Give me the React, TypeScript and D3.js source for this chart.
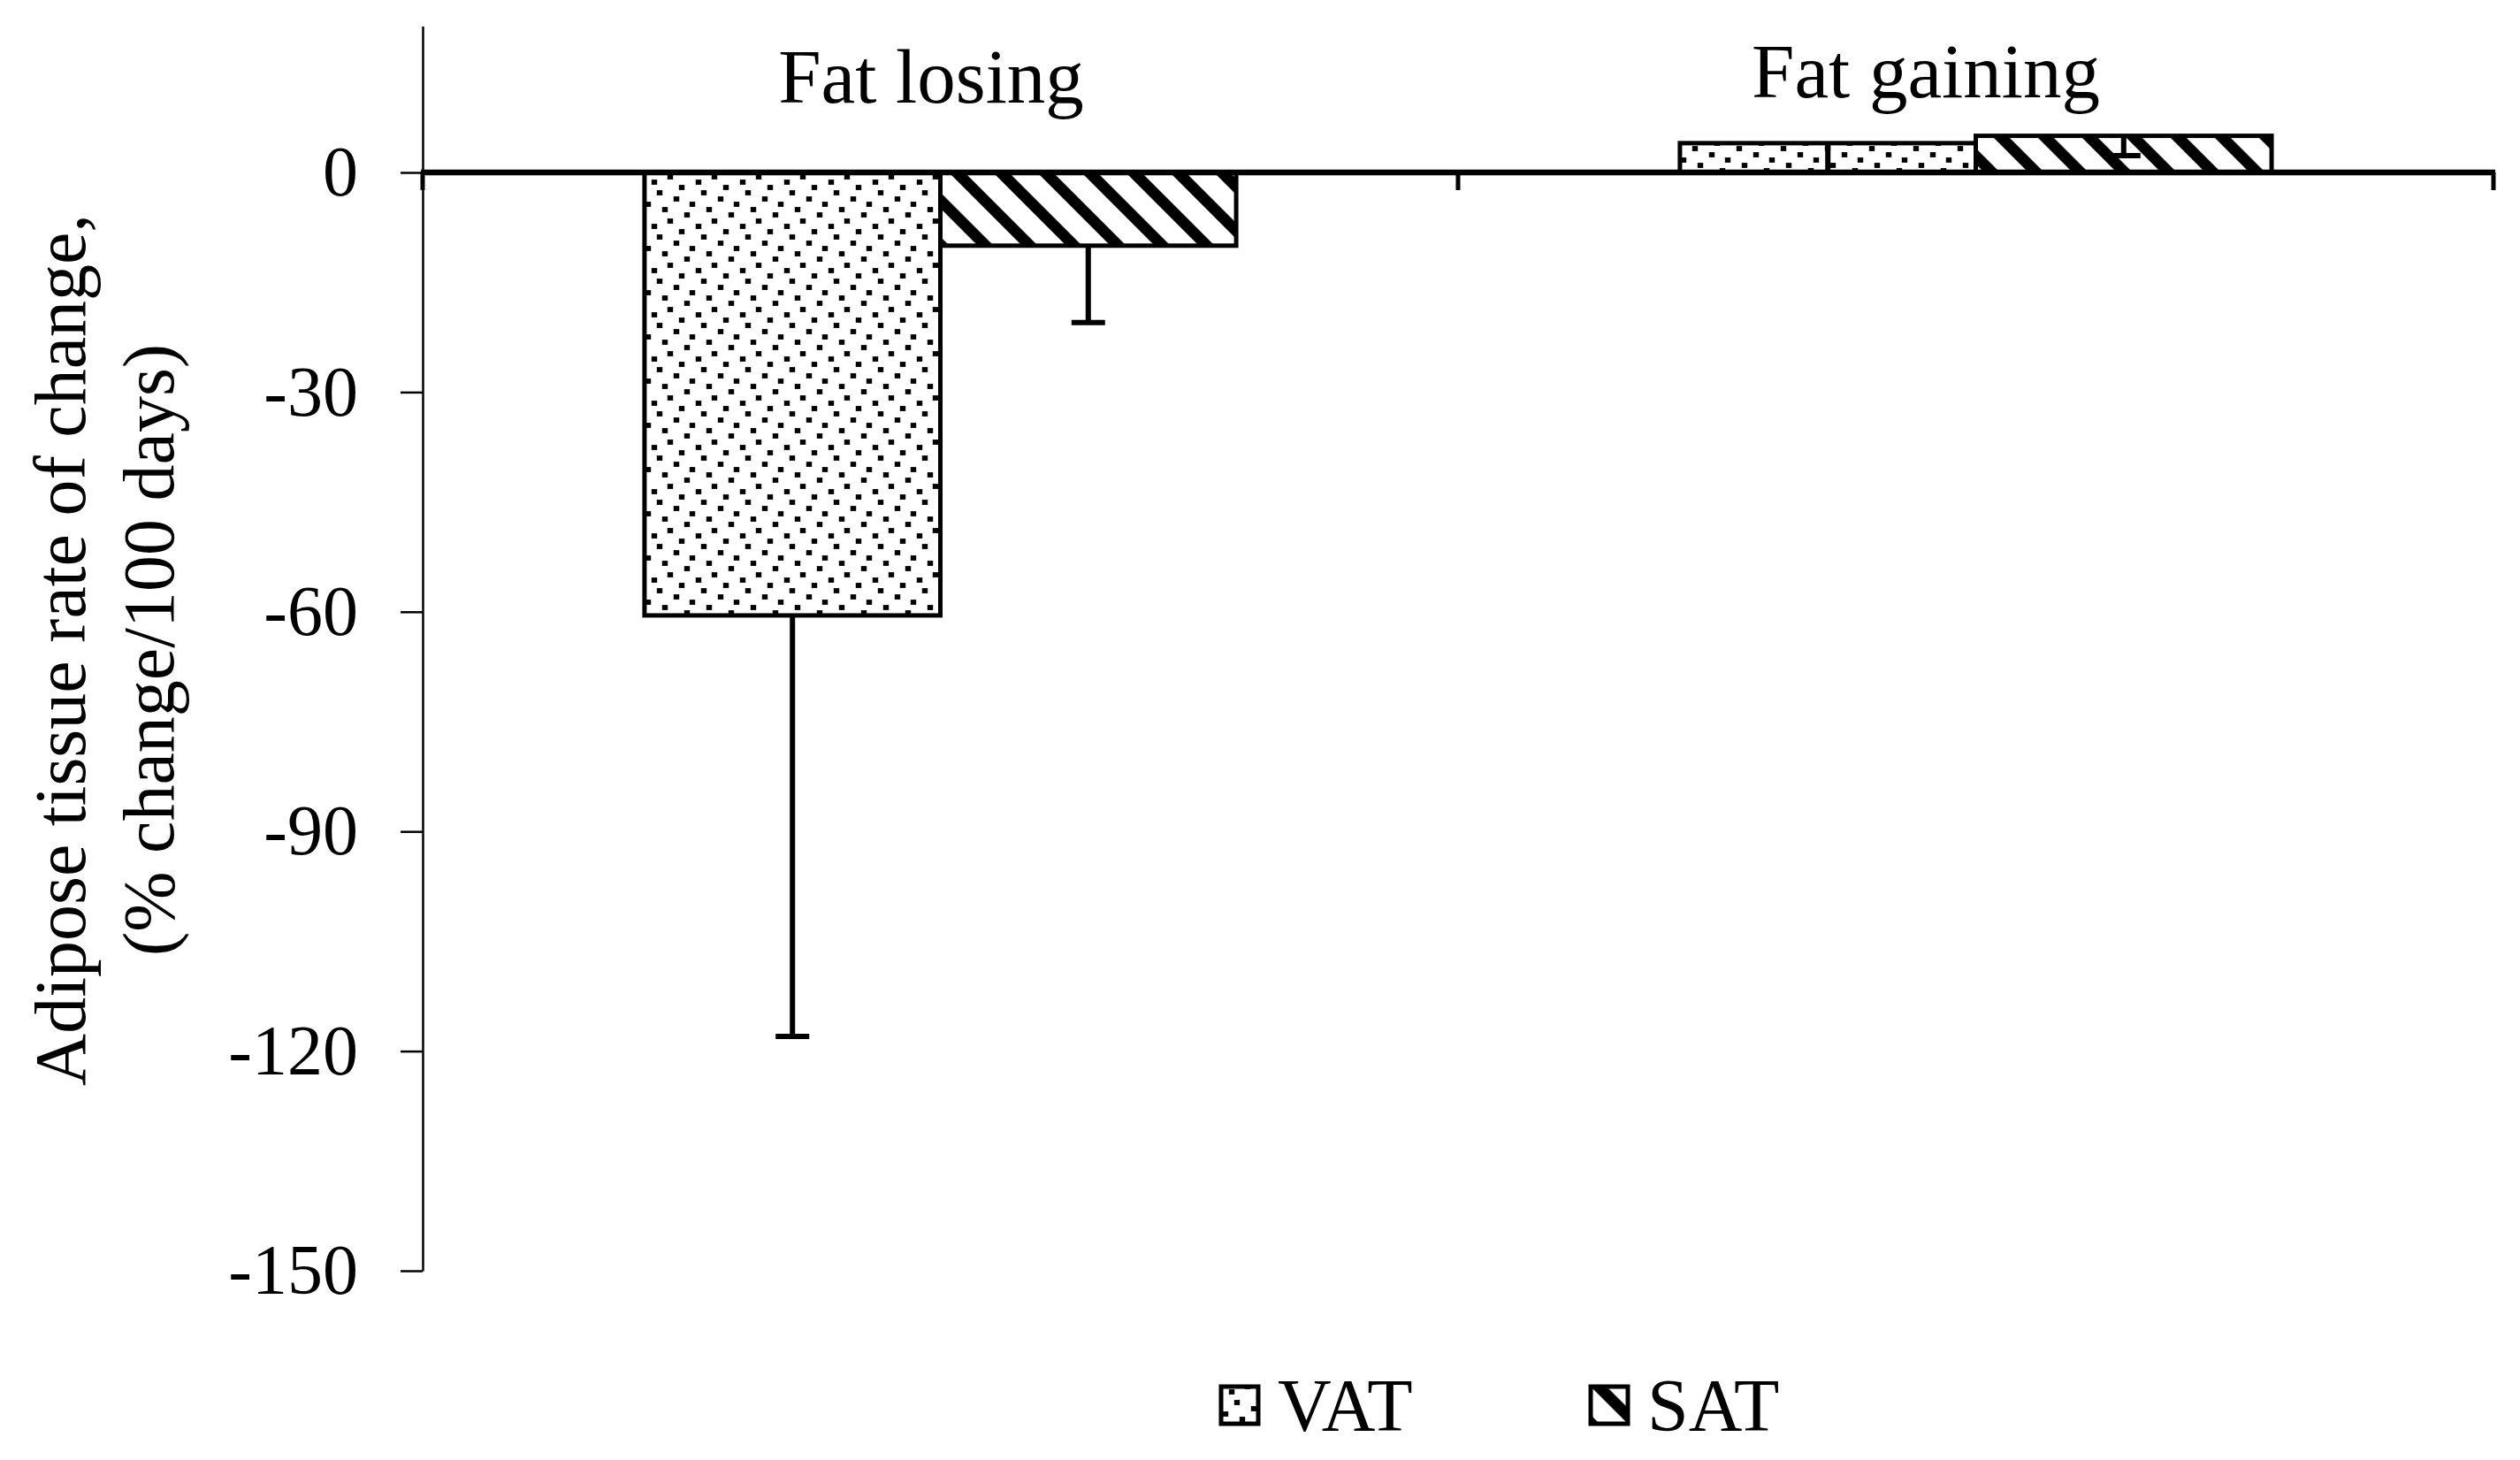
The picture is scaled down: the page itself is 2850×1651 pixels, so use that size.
import React, { useEffect, useRef } from "react";
import * as d3 from "d3";

// values
const categories = ["Fat losing", "Fat gaining"];
const seriesNames = ["VAT", "SAT"];
const vatValues = [-60.5, 4];
const satValues = [-10, 5];
const vatErrors = [57.5, 4];
const satErrors = [10.5, 2.7];
const yTickValues = [0, -30, -60, -90, -120, -150];

const WIDTH = 2850;
const HEIGHT = 1651;
const FONT = "'Liberation Serif', 'Times New Roman', serif";

export default function App() {
  const ref = useRef<SVGSVGElement>(null);

  useEffect(() => {
    document.body.style.margin = "0";
    const svg = d3.select(ref.current);
    svg.selectAll("*").remove();

    const plot = { left: 478, right: 2820, top: 29.4, bottom: 1437 };

    const y = d3.scaleLinear().domain([-150, 20]).range([plot.bottom, plot.top]);
    const x0 = d3.scaleBand().domain(categories).range([plot.left, plot.right]).padding(0);
    // excel style gap width 150%
    const x1 = d3
      .scaleBand()
      .domain(seriesNames)
      .range([0, x0.bandwidth()])
      .paddingInner(0)
      .paddingOuter(0.75);

    const defs = svg.append("defs");

    // dotted fill (VAT)
    const dots = defs
      .append("pattern")
      .attr("id", "dots")
      .attr("patternUnits", "userSpaceOnUse")
      .attr("width", 50)
      .attr("height", 50);
    dots.append("rect").attr("width", 50).attr("height", 50).attr("fill", "#fff");
    const dotPos = [
      [12, 6], [43, 12], [18, 18], [37, 25], [5, 31], [24, 37], [49, 43], [30, 0], [30, 50], [-1, 43],
    ];
    dots
      .selectAll("rect.d")
      .data(dotPos)
      .enter()
      .append("rect")
      .attr("class", "d")
      .attr("x", (d) => d[0] - 3.2)
      .attr("y", (d) => d[1] - 2.9)
      .attr("width", 6.4)
      .attr("height", 5.8)
      .attr("fill", "#000");

    // wide downward diagonal (SAT)
    const p = 50 / Math.SQRT2;
    const hatch = defs
      .append("pattern")
      .attr("id", "hatch")
      .attr("patternUnits", "userSpaceOnUse")
      .attr("width", p)
      .attr("height", p)
      .attr("patternTransform", "rotate(-45)");
    hatch.append("rect").attr("width", p).attr("height", p).attr("fill", "#fff");
    hatch.append("rect").attr("width", 12.7).attr("height", p).attr("fill", "#000");

    const fills: Record<string, string> = { VAT: "url(#dots)", SAT: "url(#hatch)" };

    const rows = categories.map((c, i) => ({
      cat: c,
      bars: [
        { key: "VAT", value: vatValues[i], err: vatErrors[i] },
        { key: "SAT", value: satValues[i], err: satErrors[i] },
      ],
    }));

    // y axis
    const yAxis = svg
      .append("g")
      .attr("transform", `translate(${plot.left},0)`)
      .call(
        d3
          .axisLeft(y)
          .tickValues(yTickValues)
          .tickSize(25)
          .tickSizeOuter(0)
          .tickPadding(48)
          .tickFormat((d) => String(d))
      );
    yAxis.select(".domain").attr("stroke", "#000").attr("stroke-width", 2.5);
    yAxis.selectAll(".tick line").attr("stroke", "#000").attr("stroke-width", 2.5);
    yAxis
      .selectAll(".tick text")
      .attr("font-family", FONT)
      .attr("font-size", 80)
      .attr("fill", "#000");

    const groups = svg
      .selectAll(".cat")
      .data(rows)
      .enter()
      .append("g")
      .attr("class", "cat")
      .attr("transform", (d) => `translate(${x0(d.cat)},0)`);

    groups
      .selectAll("rect")
      .data((d) => d.bars)
      .enter()
      .append("rect")
      .attr("x", (d) => x1(d.key)!)
      .attr("width", x1.bandwidth())
      .attr("y", (d) => y(Math.max(0, d.value)))
      .attr("height", (d) => Math.abs(y(d.value) - y(0)))
      .attr("fill", (d) => fills[d.key])
      .attr("stroke", "#000")
      .attr("stroke-width", 5);

    // error bars, minus direction only
    const errs = groups
      .selectAll(".err")
      .data((d) => d.bars)
      .enter()
      .append("g")
      .attr("class", "err")
      .attr("stroke", "#000")
      .attr("stroke-width", 6);
    errs
      .append("line")
      .attr("x1", (d) => x1(d.key)! + x1.bandwidth() / 2)
      .attr("x2", (d) => x1(d.key)! + x1.bandwidth() / 2)
      .attr("y1", (d) => y(d.value))
      .attr("y2", (d) => y(d.value - d.err));
    errs
      .append("line")
      .attr("x1", (d) => x1(d.key)! + x1.bandwidth() / 2 - 19)
      .attr("x2", (d) => x1(d.key)! + x1.bandwidth() / 2 + 19)
      .attr("y1", (d) => y(d.value - d.err))
      .attr("y2", (d) => y(d.value - d.err));

    // category axis sits on zero
    svg
      .append("line")
      .attr("x1", plot.left - 2)
      .attr("x2", plot.right + 2)
      .attr("y1", y(0))
      .attr("y2", y(0))
      .attr("stroke", "#000")
      .attr("stroke-width", 6.5);
    const bounds = [plot.left, ...categories.slice(1).map((c) => x0(c)!), plot.right];
    svg
      .selectAll(".xtick")
      .data(bounds)
      .enter()
      .append("line")
      .attr("x1", (d) => d)
      .attr("x2", (d) => d)
      .attr("y1", y(0))
      .attr("y2", y(0) + 20)
      .attr("stroke", "#000")
      .attr("stroke-width", 5);

    // category labels above the plot
    const labelX = d3.scalePoint().domain(categories).range([1053, 2178]);
    svg
      .selectAll(".catlabel")
      .data(categories)
      .enter()
      .append("text")
      .attr("x", (d) => labelX(d)!)
      .attr("y", (d, i) => (i === 0 ? 116 : 110))
      .attr("text-anchor", "middle")
      .attr("font-family", FONT)
      .attr("font-size", 87)
      .text((d) => d);

    // y title
    const title = svg
      .append("text")
      .attr("transform", "translate(0,735) rotate(-90)")
      .attr("text-anchor", "middle")
      .attr("font-family", FONT)
      .attr("font-size", 82);
    title.append("tspan").attr("x", 0).attr("y", 96).text("Adipose tissue rate of change,");
    title.append("tspan").attr("x", 0).attr("y", 196).text("(% change/100 days)");

    // legend
    const legend = svg
      .selectAll(".legend")
      .data(seriesNames)
      .enter()
      .append("g")
      .attr("class", "legend")
      .attr("transform", (d, i) => `translate(${1381 + i * 418},1568)`);
    legend
      .append("rect")
      .attr("width", 42)
      .attr("height", 42)
      .attr("fill", (d) => fills[d])
      .attr("stroke", "#000")
      .attr("stroke-width", 5);
    legend
      .append("text")
      .attr("x", 64)
      .attr("y", 50)
      .attr("font-family", FONT)
      .attr("font-size", 84)
      .text((d) => d);
  }, []);

  return <svg ref={ref} width={WIDTH} height={HEIGHT} style={{ display: "block", background: "#fff" }} />;
}
